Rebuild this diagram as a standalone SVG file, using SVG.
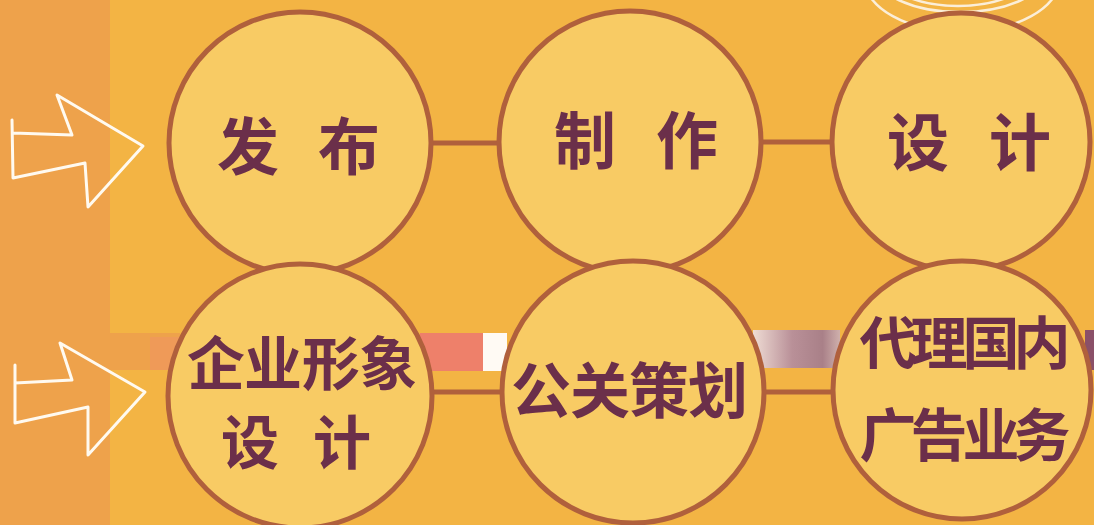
<svg xmlns="http://www.w3.org/2000/svg" width="1094" height="525" viewBox="0 0 1094 525">
<defs>
<style>
.node circle{fill:#f8cb64;stroke:#b0603c;stroke-width:5}
.lbl{font-family:"Noto Sans CJK SC","Noto Sans CJK TC",sans-serif;font-weight:700;fill:#6b2f4a;text-anchor:middle}
.conn line{stroke:#b0603c;stroke-width:5}
.arrow{fill:none;stroke:#fffaf0;stroke-width:3;stroke-linejoin:round;stroke-linecap:round}
.ring{fill:none;stroke:#fbeed8;stroke-width:2.5}
</style>
<linearGradient id="mauve" x1="0" y1="0" x2="1" y2="0">
<stop offset="0" stop-color="#efdcd4"/>
<stop offset="0.45" stop-color="#b99098"/>
<stop offset="0.8" stop-color="#a98088"/>
<stop offset="1" stop-color="#cfb0ac"/>
</linearGradient>
</defs>
<rect x="0" y="0" width="1094" height="525" fill="#f3b444"/>
<rect x="0" y="0" width="110" height="525" fill="#eea24b"/>
<!-- bands -->
<rect x="110" y="333" width="70" height="37" fill="#eea24b"/>
<rect x="150" y="337" width="40" height="33" fill="#ef9a58"/>
<rect x="420" y="333" width="65" height="38" fill="#ee806a"/>
<rect x="483" y="333" width="24" height="38" fill="#fffaf4"/>
<rect x="753" y="330" width="87" height="38" fill="url(#mauve)"/>
<rect x="1085" y="330" width="9" height="40" fill="#8a5068"/>
<!-- top-right rings -->
<ellipse class="ring" cx="962" cy="-22" rx="98" ry="54"/>
<ellipse class="ring" cx="960" cy="-28" rx="86" ry="40"/>
<ellipse class="ring" cx="958" cy="-30" rx="76" ry="36"/>
<!-- arrows -->
<path class="arrow" d="M12,120 L13,178 L85,163 L88,207 L143,146 L57,95 L72,135 L13,133"/>
<path class="arrow" d="M15,365 L15,423 L88,407 L88,455 L145,392 L60,343 L72,380 L15,383"/>
<g id="connectors" class="conn">
<line x1="430" y1="143" x2="500" y2="143"/>
<line x1="760" y1="142" x2="833" y2="142"/>
<line x1="430" y1="392" x2="504" y2="392"/>
<line x1="762" y1="392" x2="836" y2="392"/>
</g>
<g id="n-fabu" class="node"><circle cx="300" cy="143" r="131"/><text class="lbl" font-size="62" x="248 349" y="170">发布</text></g>
<g id="n-zhizuo" class="node"><circle cx="630" cy="142" r="131"/><text class="lbl" font-size="62" x="585 687" y="164">制作</text></g>
<g id="n-sheji" class="node"><circle cx="961" cy="142" r="129"/><text class="lbl" font-size="62" x="918 1020" y="166">设计</text></g>
<g id="n-qiye" class="node"><circle cx="300" cy="396" r="132"/><text class="lbl" font-size="58" x="216 273 331 388" y="385">企业形象</text><text class="lbl" font-size="58" x="250 342" y="464">设计</text></g>
<g id="n-gongguan" class="node"><circle cx="633" cy="392" r="131"/><text class="lbl" font-size="60" x="541 600 659 718" y="413">公关策划</text></g>
<g id="n-daili" class="node"><circle cx="962" cy="390" r="129"/><text class="lbl" font-size="57" x="888 939 991 1042" y="364">代理国内</text><text class="lbl" font-size="57" x="888 939 991 1042" y="456">广告业务</text></g>
</svg>
